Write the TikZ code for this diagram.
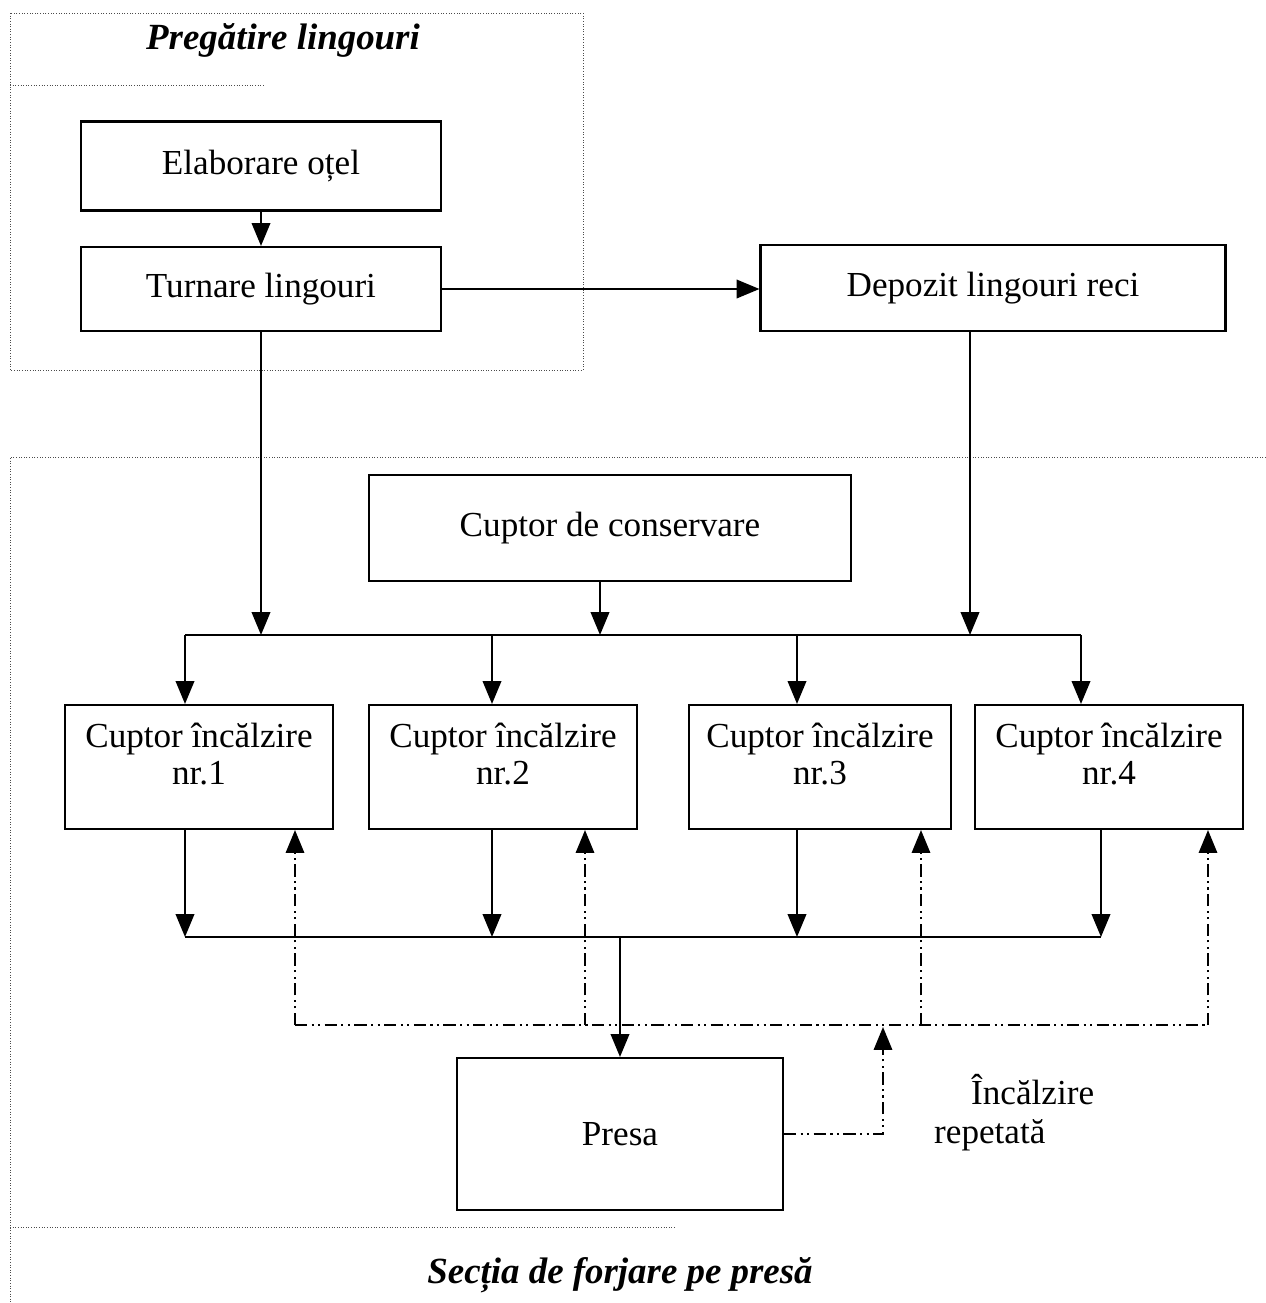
\documentclass[tikz,border=0pt]{standalone}
\usepackage{fontspec}
\setmainfont{Liberation Serif}
\usetikzlibrary{arrows.meta}
\tikzset{
  proc/.style={draw, line width=1.2pt, inner sep=0pt, align=center},
  flow/.style={line width=1.2pt, -{Triangle[length=13pt,width=10.5pt]}},
  back/.style={line width=0.9pt, dash pattern=on 7pt off 2.5pt on 1.2pt off 2.5pt on 1.2pt off 2.5pt},
  backtip/.style={-{Triangle[length=13pt,width=10.5pt]}},
  zone/.style={line width=0.5pt, densely dotted, black!70},
  title/.style={font=\bfseries\itshape\fontsize{21}{25}\selectfont}
}
\begin{document}
\begin{tikzpicture}[x=0.02cm, y=-0.02cm, font=\fontsize{20}{21}\selectfont]
    \useasboundingbox (0,0) rectangle (1266,1303);
    % zones
    \draw[zone] (10,13) rectangle (583,370);
    \draw[zone] (10,85) -- (265,85);
    \draw[zone] (1266,457) -- (10,457) -- (10,1303);
    \draw[zone] (10,1227) -- (675,1227);
    \node[title] (pregtitle) at (283,40) {Pregătire lingouri};
    \node[title] (sectitle) at (620,1275) {Secția de forjare pe presă};

    % boxes
    \node[proc, minimum width=7.2cm, minimum height=1.78cm] (elab) at (261,166) {Elaborare oțel};
    \node[proc, minimum width=7.2cm, minimum height=1.68cm] (turn) at (261,289) {Turnare lingouri};
    \node[proc, minimum width=9.3cm, minimum height=1.72cm] (depo) at (993,288) {Depozit lingouri reci};
    \node[proc, minimum width=9.64cm, minimum height=2.12cm] (cons) at (610,528) {Cuptor de conservare};
    \foreach \i/\x/\w in {1/199/5.36, 2/503/5.36, 3/820/5.24, 4/1109/5.36}
      \node[proc, minimum width=\w cm, minimum height=2.48cm] (c\i) at (\x,767) {Cuptor încălzire\\nr.\i\\[-6pt]};
    \node[proc, minimum width=6.52cm, minimum height=3.04cm] (presa) at (620,1134) {Presa};

    % distribution
    \coordinate (tc) at (600,635);
    \coordinate (td) at (970,635);
    \draw[flow] (elab) -- (turn);
    \draw[flow] (turn.east) -- (turn.east -| depo.west);
    \draw[flow] (turn.south) -- (turn.south |- tc);
    \draw[flow] (cons.south -| tc) -- (tc);
    \draw[flow] (depo.south -| td) -- (td);
    \foreach \i/\x in {1/185, 2/492, 3/797, 4/1081} {
      \coordinate (s\i) at (\x,635);
      \draw[flow] (s\i) -- (s\i |- c\i.north);
    }
    \draw[line width=1.2pt] (s1) -- (s4);

    % collection
    \foreach \i/\x in {1/185, 2/492, 3/797, 4/1101} {
      \coordinate (d\i) at (\x,937);
      \draw[flow] (c\i.south -| d\i) -- (d\i);
    }
    \draw[line width=1.2pt] (d1) -- (d4);
    \coordinate (dm) at (620,937);
    \draw[flow] (dm) -- (presa.north);

    % repeated heating
    \coordinate (rj) at (883,1027);
    \draw[back, backtip] (presa.east) -| (rj);
    \foreach \i/\x in {1/295, 2/585, 3/921, 4/1208} {
      \coordinate (u\i) at (\x,1025);
      \draw[back, backtip] (u\i) -- (u\i |- c\i.south);
    }
    \draw[back] (u1) -- (u4);
    \node[anchor=west] (rep1) at (965,1090) {Încălzire};
    \node[anchor=west] (rep2) at (928,1135) {repetată};
\end{tikzpicture}
\end{document}
